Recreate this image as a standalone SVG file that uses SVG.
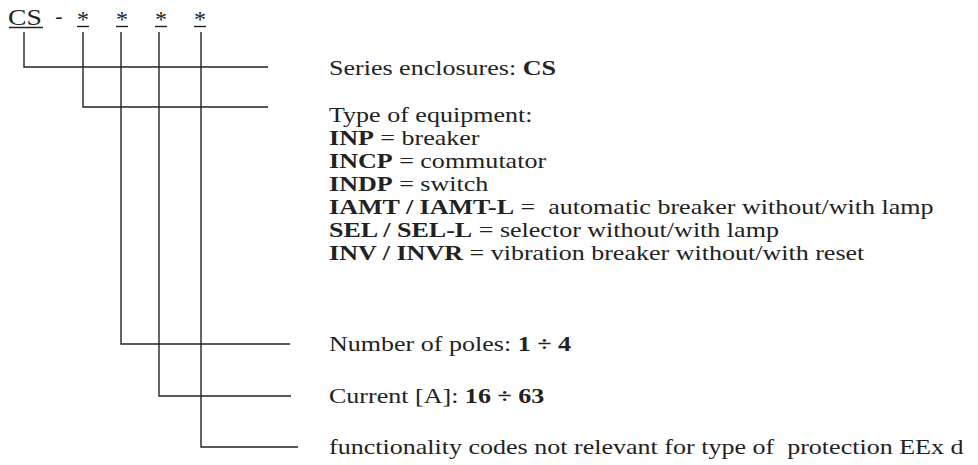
<svg xmlns="http://www.w3.org/2000/svg" width="978" height="465" viewBox="0 0 978 465">
<style>
text,tspan{font-family:"Liberation Serif","Times New Roman",serif;fill:#222}
.t{font-size:21px}
.b{font-weight:bold}
.r{font-weight:normal}
.ln{stroke:#222;stroke-width:1.4;fill:none}
</style>
<rect width="978" height="465" fill="#fff"/>
<g id="code">
<text x="8" y="25" style="font-size:24px" transform="translate(8,0) scale(1.15,1) translate(-8,0)">CS</text>
<line class="ln" x1="9" y1="27.5" x2="43" y2="27.5"/>
<text x="59" y="23" style="font-size:22px" text-anchor="middle">-</text>
<text x="83" y="27" style="font-size:24px" text-anchor="middle">*</text>
<text x="122" y="27" style="font-size:24px" text-anchor="middle">*</text>
<text x="161" y="27" style="font-size:24px" text-anchor="middle">*</text>
<text x="200" y="27" style="font-size:24px" text-anchor="middle">*</text>
<line class="ln" x1="77" y1="26.5" x2="89" y2="26.5"/>
<line class="ln" x1="116" y1="26.5" x2="128" y2="26.5"/>
<line class="ln" x1="155" y1="26.5" x2="167" y2="26.5"/>
<line class="ln" x1="194" y1="26.5" x2="206" y2="26.5"/>
</g>
<g id="connectors">
<polyline class="ln" points="24,32 24,67 268,67"/>
<polyline class="ln" points="83,32 83,107 268,107"/>
<polyline class="ln" points="121,32 121,344 290,344"/>
<polyline class="ln" points="159,32 159,396 291,396"/>
<polyline class="ln" points="201,32 201,447 298,447"/>
</g>
<g id="series">
<text class="t" transform="translate(329,75) scale(1.24,1)"><tspan class="r">Series enclosures: </tspan><tspan class="b">CS</tspan></text>
</g>
<g id="type">
<text class="t" transform="translate(329,122) scale(1.24,1)"><tspan class="r">Type of equipment:</tspan></text>
<text class="t" transform="translate(329,145) scale(1.24,1)"><tspan class="b">INP</tspan><tspan class="r" font-family="Liberation Serif"> = breaker</tspan></text>
<text class="t" transform="translate(329,168) scale(1.24,1)"><tspan class="b">INCP</tspan><tspan class="r" font-family="Liberation Serif"> = commutator</tspan></text>
<text class="t" transform="translate(329,191) scale(1.24,1)"><tspan class="b">INDP</tspan><tspan class="r" font-family="Liberation Serif"> = switch</tspan></text>
<text class="t" transform="translate(329,214) scale(1.24,1)" xml:space="preserve"><tspan class="b">IAMT / IAMT-L</tspan><tspan class="r" font-family="Liberation Serif"> =  automatic breaker without/with lamp</tspan></text>
<text class="t" transform="translate(329,237) scale(1.24,1)"><tspan class="b">SEL / SEL-L</tspan><tspan class="r" font-family="Liberation Serif"> = selector without/with lamp</tspan></text>
<text class="t" transform="translate(329,260) scale(1.24,1)"><tspan class="b">INV / INVR</tspan><tspan class="r" font-family="Liberation Serif"> = vibration breaker without/with reset</tspan></text>
</g>
<g id="poles">
<text class="t" transform="translate(329,351) scale(1.24,1)"><tspan class="r">Number of poles: </tspan><tspan class="b">1 ÷ 4</tspan></text>
</g>
<g id="current">
<text class="t" transform="translate(329,403) scale(1.24,1)"><tspan class="r">Current [A]: </tspan><tspan class="b">16 ÷ 63</tspan></text>
</g>
<g id="func">
<text class="t" transform="translate(329,454) scale(1.24,1)" xml:space="preserve"><tspan class="r">functionality codes not relevant for type of  protection EEx d</tspan></text>
</g>
</svg>
